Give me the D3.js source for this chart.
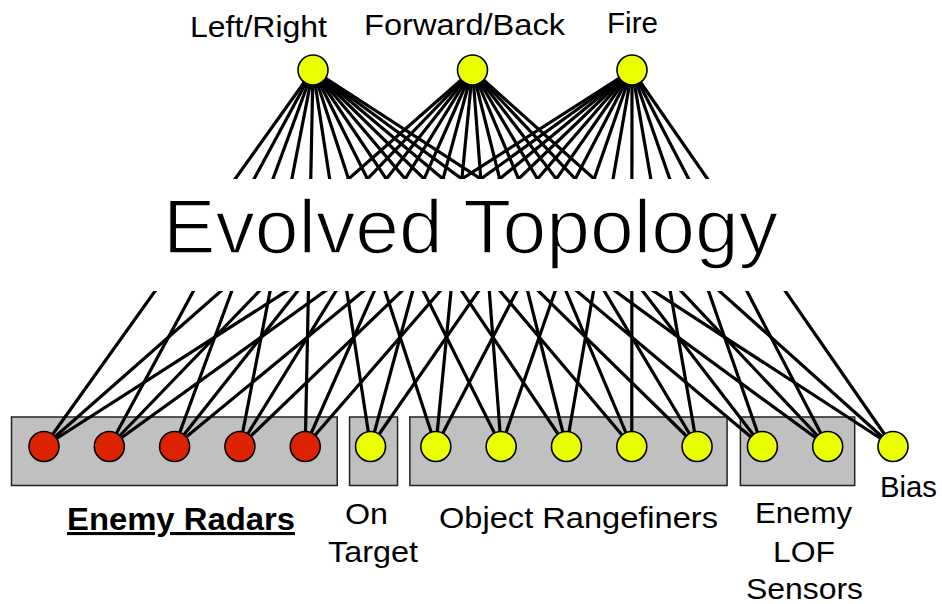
<!DOCTYPE html>
<html>
<head>
<meta charset="utf-8">
<script src="https://cdn.jsdelivr.net/npm/d3@7"></script>
<style>
  html, body { margin: 0; padding: 0; background: #fff; }
  svg { display: block; }
  text { font-family: "Liberation Sans", Arial, Helvetica, sans-serif; fill: #000; }
</style>
</head>
<body>
<svg id="chart" width="942" height="604"></svg>
<script>
// ---- data ----
const outputs = ["Left/Right", "Forward/Back", "Fire"];
const inputKinds = ["radar","radar","radar","radar","radar",
                    "target",
                    "range","range","range","range","range",
                    "lof","lof",
                    "bias"];
const groupNames = ["Enemy Radars", "On Target", "Object Rangefiners", "Enemy LOF Sensors"];
const groupStart = [0, 5, 6, 11];
const groupEnd   = [4, 5, 10, 12];
const centerTitle = "Evolved Topology";
const biasLabel = "Bias";

// ---- layout ----
const W = 942, H = 604;
const topY = 70, botY = 446.5, R = 15;
const bandTop = 179, bandBottom = 291;
const boxTop = 417, boxBottom = 485.5;
const boxPad = [[32.5, 32], [21, 27], [26, 30], [22, 27]];

const svg = d3.select("#chart");

const xOut = d3.scalePoint().domain(outputs).range([313, 632]);
const xIn = d3.scalePoint().domain(d3.range(inputKinds.length)).range([44, 893]);

const fillFor = k => k === "radar" ? "#dd2200" : "#eaff00";

// group boxes
svg.append("g").selectAll("rect")
  .data(groupNames.map((n, i) => ({n, i})))
  .join("rect")
  .attr("x", d => xIn(groupStart[d.i]) - boxPad[d.i][0])
  .attr("width", d => xIn(groupEnd[d.i]) + boxPad[d.i][1] - (xIn(groupStart[d.i]) - boxPad[d.i][0]))
  .attr("y", boxTop)
  .attr("height", boxBottom - boxTop)
  .attr("fill", "#c0c0c0")
  .attr("stroke", "#222")
  .attr("stroke-width", 1.5);

// clip regions: links visible above and below the title band
const defs = svg.append("defs");
const clip = defs.append("clipPath").attr("id", "linkclip");
clip.append("rect").attr("x", 0).attr("y", 0).attr("width", W).attr("height", bandTop);
clip.append("rect").attr("x", 0).attr("y", bandBottom).attr("width", W).attr("height", H - bandBottom);

const links = [];
outputs.forEach(o => inputKinds.forEach((k, i) => links.push({o, i})));

svg.append("g").attr("clip-path", "url(#linkclip)")
  .selectAll("line").data(links).join("line")
  .attr("x1", d => xOut(d.o)).attr("y1", topY)
  .attr("x2", d => xIn(d.i)).attr("y2", botY)
  .attr("stroke", "#000")
  .attr("stroke-width", 3.2);

// nodes
svg.append("g").selectAll("circle").data(outputs).join("circle")
  .attr("cx", d => xOut(d)).attr("cy", topY).attr("r", R)
  .attr("fill", "#eaff00").attr("stroke", "#000").attr("stroke-width", 1.6);

svg.append("g").selectAll("circle").data(inputKinds).join("circle")
  .attr("cx", (d, i) => xIn(i)).attr("cy", botY).attr("r", R)
  .attr("fill", d => fillFor(d)).attr("stroke", "#000").attr("stroke-width", 1.6);

// text helper
function label(str, x, y, size, len, extra) {
  const t = svg.append("text")
    .attr("x", x).attr("y", y)
    .attr("font-size", size)
    .attr("textLength", len)
    .attr("lengthAdjust", "spacingAndGlyphs")
    .text(str);
  if (extra) extra(t);
  return t;
}

// output labels
const outLabelPos = [[190, 37, 137], [364, 35, 201], [607, 33, 51]];
outputs.forEach((o, i) => label(o, outLabelPos[i][0], outLabelPos[i][1], 30, outLabelPos[i][2],
  t => t.attr("fill", "#1a1a1a")));

// center title (thin strokes)
label(centerTitle, 163, 253, 76, 615, t => t
  .attr("stroke", "#fff").attr("stroke-width", 1.6));

// group labels
label(groupNames[0], 67, 530, 31, 228, t => t.attr("font-weight", "bold").style("text-decoration", "underline"));
const onTarget = groupNames[1].split(" ");
label(onTarget[0], 345, 524, 30, 43);
label(onTarget[1], 328, 562, 30, 90);
label(groupNames[2], 439, 528, 30, 279);
const lofWords = ["Enemy", "LOF", "Sensors"];
label(lofWords[0], 755, 523, 30, 97);
label(lofWords[1], 773, 562, 30, 62);
label(lofWords[2], 746, 599, 30, 117);
label(biasLabel, 880, 497, 30, 57);
</script>
</body>
</html>
